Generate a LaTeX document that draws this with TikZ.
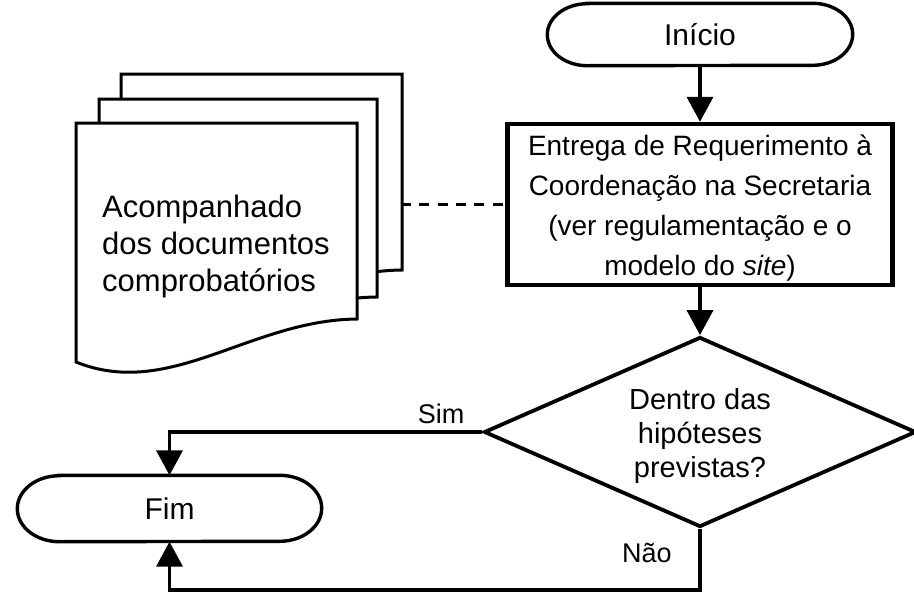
\documentclass[tikz,border=0pt]{standalone}
\usepackage{fontspec}
\setmainfont{Liberation Sans}
\usetikzlibrary{arrows.meta,shapes.geometric,calc}
\newcommand{\topstrut}[1]{\rule{0pt}{#1}}
\newcommand{\botstrut}[1]{\rule[-#1]{0pt}{#1}}
\begin{document}
\begin{tikzpicture}[x=1pt,y=1pt,
  arr/.style={line width=3.8pt,-{Triangle[length=25pt,width=26pt]}},
  termbox/.style={minimum width=305pt,minimum height=62pt,inner sep=0pt,font=\fontsize{30}{36}\selectfont},
  termline/.style={draw,line width=3.4pt},
  procbox/.style={draw,line width=4.4pt,minimum width=385pt,minimum height=161pt,inner sep=0pt,align=center,font=\fontsize{28}{40}\selectfont},
  decbox/.style={draw,diamond,line width=3.8pt,minimum width=432pt,minimum height=190pt,inner sep=0pt,shape aspect=2.27,align=center,font=\fontsize{29}{34}\selectfont},
  docpage/.style={draw,line width=3pt,fill=white},
  dashline/.style={line width=2.7pt,dash pattern=on 10pt off 8.3pt},
  lbl/.style={font=\fontsize{27}{32}\selectfont,inner sep=0pt}
]
\useasboundingbox (0,0) rectangle (914,-598);
\fill[white] (0,0) rectangle (914,-598);

% stacked documents
\path[docpage] (121,-74) -- (402,-74) -- (402,-270) .. controls (295,-271) and (215,-351) .. (121,-313) -- cycle;
\path[docpage] (99,-99) -- (377,-99) -- (377,-297) .. controls (270,-298) and (193,-376) .. (99,-338) -- cycle;
\path[docpage] (76,-123) -- (357,-123) -- (357,-319) .. controls (250,-320) and (170,-400) .. (76,-362) -- cycle;
\node[anchor=north west,align=left,inner sep=0pt,font=\fontsize{31}{37}\selectfont] (doctext) at (102,-194.5) {Acompanhado\\dos documentos\\comprobatórios};
\coordinate (dockp) at (401,-204.5);

% start terminal
\node[termbox] (ini) at (700,-34.5) {Início};
\draw[termline] ([xshift=40pt]ini.north west) -- ([xshift=-40pt]ini.north east)
  arc[start angle=90,end angle=-90,x radius=40pt,y radius=31pt]
  -- ([xshift=40pt]ini.south west)
  arc[start angle=270,end angle=90,x radius=40pt,y radius=31pt] -- cycle;

% process
\node[procbox] (req) at (700,-204.5) {\topstrut{31pt}Entrega de Requerimento à\\Coordenação na Secretaria\\(ver regulamentação e o\\modelo do \textit{site})\botstrut{10pt}};

% decision
\node[decbox] (dec) at (700,-432) {\topstrut{32pt}Dentro das\\hipóteses\\previstas?\botstrut{10pt}};

% end terminal
\node[termbox,minimum width=304pt,minimum height=66pt] (fim) at (169.5,-508.5) {Fim};
\draw[termline] ([xshift=42pt]fim.north west) -- ([xshift=-42pt]fim.north east)
  arc[start angle=90,end angle=-90,x radius=42pt,y radius=33pt]
  -- ([xshift=42pt]fim.south west)
  arc[start angle=270,end angle=90,x radius=42pt,y radius=33pt] -- cycle;

% connectors
\draw[arr] (ini.south) -- (req.north);
\draw[arr] (req.south) -- (dec.north);
\draw[arr] (dec.west) -| (fim.north);
\coordinate (nb) at (169.5,-590);
\draw[arr] (dec.south) |- (nb) -- (fim.south);
\draw[dashline] (dockp) -- (req.west);

% labels
\node[lbl] (sim) at (441,-414) {Sim};
\node[lbl] (nao) at (647,-553) {Não};
\end{tikzpicture}
\end{document}
